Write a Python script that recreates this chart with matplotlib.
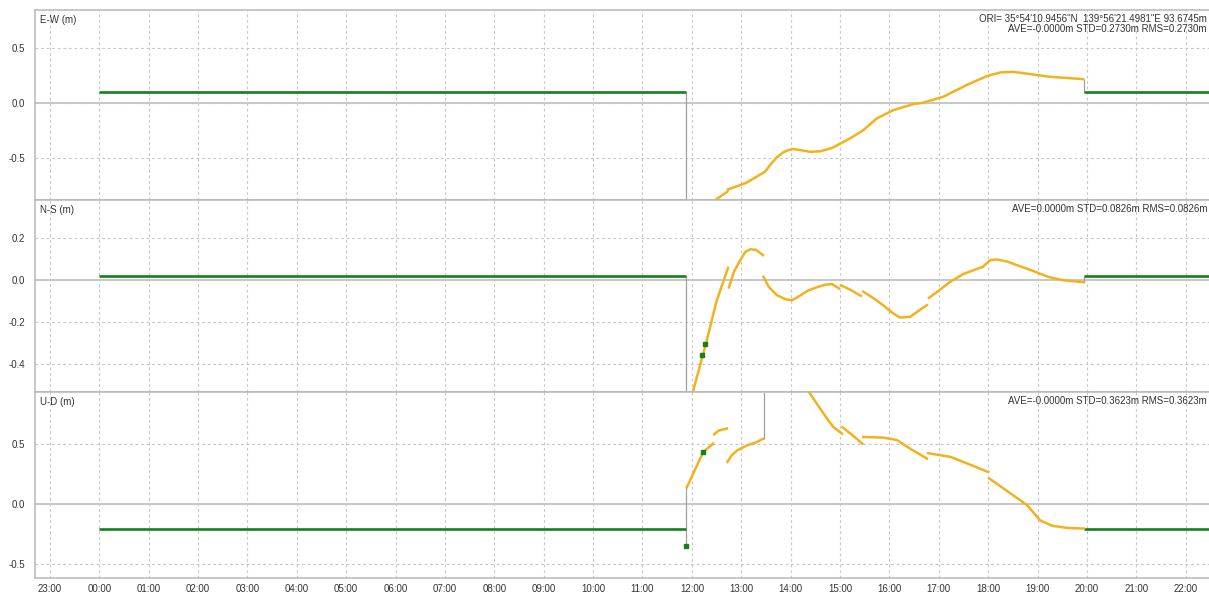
import numpy as np
import matplotlib.pyplot as plt
from matplotlib.ticker import FixedLocator

nan = np.nan

# hours since 00:00 (23:00 of the previous day = -1)
hour_ticks = list(range(-1, 23))
hour_labels = ['23:00'] + ['%02d:00' % h for h in range(0, 23)]

# flat (fixed) solution segments: start, end
green_start = [0.0, 19.94]
green_end = [11.88, 22.6]

# ---- E-W ----
ew_green = 0.10
ew_h = [12.42, 12.72, nan, 12.73, 13.1, 13.48, 13.6, 13.72, 13.85, 13.95, 14.05, 14.2, 14.39, 14.6, 14.84,
        15.2, 15.47, 15.74, 16.07, 16.48, 16.68, 17.09, 17.56, 17.97, 18.24, 18.5, 18.91, 19.25, 19.92]
ew_v = [-0.89, -0.80, nan, -0.78, -0.72, -0.62, -0.55, -0.49, -0.445, -0.425, -0.415, -0.425, -0.44, -0.435, -0.405,
        -0.32, -0.245, -0.14, -0.065, -0.01, 0.003, 0.057, 0.162, 0.243, 0.276, 0.282, 0.258, 0.237, 0.216]

# ---- N-S ----
ns_green = 0.02
ns_h = [12.02, 12.3, 12.5, 12.73, nan,
        12.75, 12.85, 12.98, 13.08, 13.18, 13.3, 13.44, nan,
        13.45, 13.55, 13.72, 13.9, 14.03, 14.15, 14.35, 14.53, 14.7, 14.84, 14.98, nan,
        15.02, 15.2, 15.42, nan,
        15.47, 15.7, 15.87, 16.05, 16.21, 16.42, 16.6, 16.76, nan,
        16.8, 17.0, 17.23, 17.5, 17.89, 18.04, 18.18, 18.4, 18.58, 18.9, 19.21, 19.5, 19.94]
ns_v = [-0.536, -0.29, -0.10, 0.058, nan,
        -0.035, 0.04, 0.096, 0.135, 0.148, 0.145, 0.12, nan,
        0.016, -0.03, -0.072, -0.092, -0.096, -0.08, -0.05, -0.034, -0.022, -0.019, -0.04, nan,
        -0.025, -0.045, -0.075, nan,
        -0.055, -0.09, -0.12, -0.155, -0.179, -0.176, -0.145, -0.12, nan,
        -0.085, -0.05, -0.008, 0.03, 0.064, 0.096, 0.099, 0.088, 0.072, 0.045, 0.016, 0.0, -0.01]
ns_dot_h = [12.2, 12.27]
ns_dot_v = [-0.36, -0.307]

# ---- U-D ----
ud_green = -0.21
ud_h = [11.9, 12.05, 12.23, 12.43, nan,
        12.45, 12.55, 12.71, nan,
        12.72, 12.8, 12.92, 13.12, 13.3, 13.44, nan,
        14.37, 14.55, 14.7, 14.86, 15.04, nan,
        15.05, 15.25, 15.45, nan,
        15.47, 15.87, 16.15, 16.45, 16.76, nan,
        16.78, 17.23, 17.6, 18.0, nan,
        18.02, 18.4, 18.79, 19.05, 19.3, 19.6, 19.94]
ud_v = [0.138, 0.27, 0.43, 0.50, nan,
        0.577, 0.61, 0.625, nan,
        0.347, 0.40, 0.444, 0.486, 0.51, 0.54, nan,
        0.93, 0.82, 0.73, 0.64, 0.583, nan,
        0.636, 0.57, 0.50, nan,
        0.555, 0.55, 0.53, 0.45, 0.375, nan,
        0.42, 0.39, 0.33, 0.263, nan,
        0.21, 0.10, -0.014, -0.14, -0.185, -0.203, -0.208]
ud_dot_h = [11.88, 12.23]
ud_dot_v = [-0.353, 0.43]

GREEN = '#13821a'
ORANGE = '#f2b21e'
GRAY = '#a0a0a0'
GRID = '#c8c8c8'
TXT = '#333333'
FS = 7

plt.rcParams['font.family'] = ['Liberation Sans', 'DejaVu Sans']

W, H = 1209, 595
fig = plt.figure(figsize=(W / 100, H / 100), dpi=100)
fig.patch.set_facecolor('white')


def make_ax(top_px, bot_px, ylim, yticks, ylabels):
    ax = fig.add_axes([35 / W, 1 - bot_px / H, 1 - 35 / W, (bot_px - top_px) / H])
    ax.set_xlim(-1.3, 22.47)
    ax.set_ylim(*ylim)
    ax.xaxis.set_major_locator(FixedLocator(hour_ticks))
    ax.set_yticks(yticks)
    ax.set_yticklabels(ylabels)
    ax.tick_params(length=0, labelsize=FS, colors=TXT, pad=7)
    ax.grid(True, color=GRID, linestyle=(0, (2.5, 2.5)), linewidth=0.8)
    ax.axhline(0, color='#bdbdbd', linewidth=1.2, zorder=1)
    for s in ['left', 'top', 'bottom']:
        ax.spines[s].set_color('#b8b8b8')
        ax.spines[s].set_linewidth(1.1)
    ax.spines['right'].set_visible(False)
    return ax


ax1 = make_ax(10, 200, (-0.875, 0.84), [-0.5, 0, 0.5], ['-0.5', '0.0', '0.5'])
ax2 = make_ax(200, 392, (-0.536, 0.384), [-0.4, -0.2, 0, 0.2], ['-0.4', '-0.2', '0.0', '0.2'])
ax3 = make_ax(392, 578, (-0.62, 0.93), [-0.5, 0, 0.5], ['-0.5', '0.0', '0.5'])

for ax in (ax1, ax2):
    ax.set_xticklabels([])
ax3.set_xticklabels(hour_labels)
ax3.tick_params(axis='x', pad=4)

# E-W
ax1.vlines(11.88, -0.875, ew_green, color=GRAY, lw=0.9, zorder=2)
ax1.vlines(19.94, ew_green, 0.216, color=GRAY, lw=0.9, zorder=2)
ax1.hlines([ew_green] * 2, green_start, green_end, color=GREEN, lw=1.9, zorder=3)
ax1.plot(ew_h, ew_v, color=ORANGE, lw=1.8, zorder=3)

# N-S
ax2.vlines(11.88, -0.536, ns_green, color=GRAY, lw=0.9, zorder=2)
ax2.vlines(19.94, -0.01, ns_green, color=GRAY, lw=0.9, zorder=2)
ax2.hlines([ns_green] * 2, green_start, green_end, color=GREEN, lw=1.9, zorder=3)
ax2.plot(ns_h, ns_v, color=ORANGE, lw=1.8, zorder=3)
ax2.plot(ns_dot_h, ns_dot_v, 's', color=GREEN, ms=2.2, zorder=4)

# U-D
ax3.vlines(11.88, -0.353, 0.138, color=GRAY, lw=0.9, zorder=2)
ax3.vlines(13.45, 0.54, 0.93, color=GRAY, lw=0.9, zorder=2)
ax3.hlines([ud_green] * 2, green_start, green_end, color=GREEN, lw=1.9, zorder=3)
ax3.plot(ud_h, ud_v, color=ORANGE, lw=1.8, zorder=3)
ax3.plot(ud_dot_h, ud_dot_v, 's', color=GREEN, ms=2.2, zorder=4)

# labels
for ax, name in [(ax1, 'E-W (m)'), (ax2, 'N-S (m)'), (ax3, 'U-D (m)')]:
    ax.annotate(name, xy=(0, 1), xycoords='axes fraction', xytext=(5, -5),
                textcoords='offset pixels', ha='left', va='top', fontsize=FS, color=TXT)

ax1.annotate("ORI= 35°54'10.9456\"N  139°56'21.4981\"E 93.6745m\n"
             "AVE=-0.0000m STD=0.2730m RMS=0.2730m",
             xy=(1, 1), xycoords='axes fraction', xytext=(-2, -4), textcoords='offset pixels',
             ha='right', va='top', fontsize=FS, color=TXT, linespacing=1.0)
ax2.annotate('AVE=0.0000m STD=0.0826m RMS=0.0826m',
             xy=(1, 1), xycoords='axes fraction', xytext=(-2, -4), textcoords='offset pixels',
             ha='right', va='top', fontsize=FS, color=TXT)
ax3.annotate('AVE=-0.0000m STD=0.3623m RMS=0.3623m',
             xy=(1, 1), xycoords='axes fraction', xytext=(-2, -4), textcoords='offset pixels',
             ha='right', va='top', fontsize=FS, color=TXT)

fig.savefig('out.png', dpi=100)
